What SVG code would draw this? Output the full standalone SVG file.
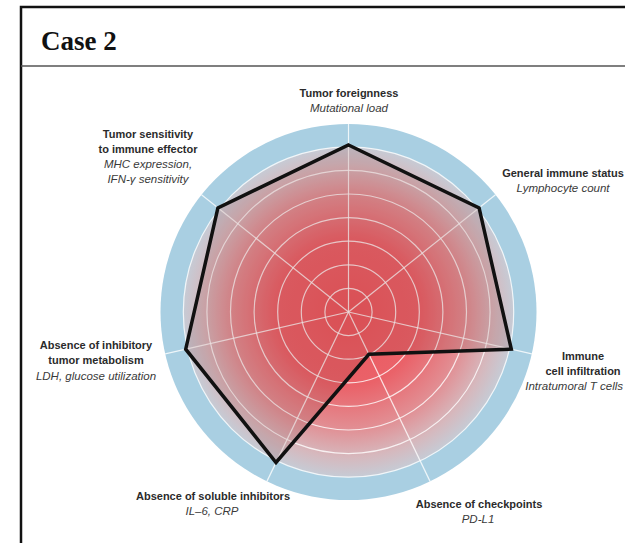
<svg xmlns="http://www.w3.org/2000/svg" width="625" height="543" viewBox="0 0 625 543">
<defs>
<radialGradient id="core" cx="0" cy="0" r="165" gradientUnits="userSpaceOnUse">
<stop offset="0" stop-color="#ec565c"/>
<stop offset="0.45" stop-color="#ea6269"/>
<stop offset="0.7" stop-color="#e28d92"/>
<stop offset="0.88" stop-color="#d6b8bd"/>
<stop offset="1" stop-color="#c6cbd5"/>
</radialGradient>
<style>
.lbl{font-family:"Liberation Sans",Arial,sans-serif;font-size:11px;font-weight:bold;fill:#2b2b2b;text-anchor:middle}
.sub{font-family:"Liberation Sans",Arial,sans-serif;font-size:11.5px;font-style:italic;fill:#3a3a3a;text-anchor:middle}
.grid{fill:none;stroke:#ffffff;stroke-opacity:0.8;stroke-width:1.2}
</style>
</defs>
<rect x="0" y="0" width="625" height="543" fill="#ffffff"/>
<g id="frame">
<rect x="21" y="7" width="620" height="560" fill="none" stroke="#111" stroke-width="2.5"/>
<line x1="21" y1="66" x2="625" y2="66" stroke="#555" stroke-width="1.6"/>
<text x="41" y="50" font-family="Liberation Serif,'Times New Roman',serif" font-size="27" font-weight="bold" fill="#111">Case 2</text>
</g>
<g id="radar" transform="translate(348.5,312)">
<circle r="188" fill="#a9cfe2"/>
<circle r="165.2" fill="url(#core)"/>
<g class="grid">
<circle r="23.6"/><circle r="47.2"/><circle r="70.8"/><circle r="94.4"/><circle r="118"/><circle r="141.6"/><circle r="165.2"/>
</g>
<g id="spokes" class="grid">
<line x1="0" y1="0" x2="0" y2="-188"/>
<line x1="0" y1="0" x2="146.98" y2="-117.22"/>
<line x1="0" y1="0" x2="183.29" y2="41.83"/>
<line x1="0" y1="0" x2="81.57" y2="169.38"/>
<line x1="0" y1="0" x2="-81.57" y2="169.38"/>
<line x1="0" y1="0" x2="-183.29" y2="41.83"/>
<line x1="0" y1="0" x2="-146.98" y2="-117.22"/>
</g>
<polygon id="profile" points="0,-167 130.6,-104.1 162.8,37.2 20.4,42.3 -72.5,150.5 -162.8,37.2 -130.6,-104.1" fill="#7a2c2c" fill-opacity="0.15" stroke="#111" stroke-width="3.5" stroke-linejoin="miter"/>
</g>
<g id="n-foreignness"><text class="lbl" x="349" y="97">Tumor foreignness</text><text class="sub" x="349" y="112">Mutational load</text></g>
<g id="n-general"><text class="lbl" x="563" y="177">General immune status</text><text class="sub" x="563" y="192">Lymphocyte count</text></g>
<g id="n-infiltration"><text class="lbl" x="583" y="360">Immune</text><text class="lbl" x="583" y="375">cell infiltration</text><text class="sub" x="623" y="390" style="text-anchor:end">Intratumoral T cells</text></g>
<g id="n-checkpoints"><text class="lbl" x="479" y="508">Absence of checkpoints</text><text class="sub" x="478" y="523">PD-L1</text></g>
<g id="n-soluble"><text class="lbl" x="213" y="500">Absence of soluble inhibitors</text><text class="sub" x="212" y="515">IL–6, CRP</text></g>
<g id="n-metabolism"><text class="lbl" x="96" y="349">Absence of inhibitory</text><text class="lbl" x="96" y="364">tumor metabolism</text><text class="sub" x="96" y="380">LDH, glucose utilization</text></g>
<g id="n-sensitivity"><text class="lbl" x="148" y="138">Tumor sensitivity</text><text class="lbl" x="148" y="153">to immune effector</text><text class="sub" x="148" y="168">MHC expression,</text><text class="sub" x="148" y="183">IFN-γ sensitivity</text></g>
</svg>
